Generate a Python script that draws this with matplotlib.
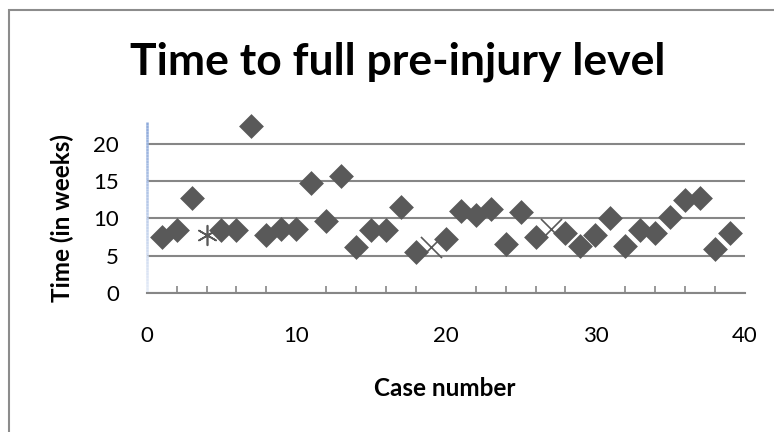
import matplotlib
matplotlib.use("Agg")
import matplotlib.pyplot as plt
import numpy as np
from matplotlib.patches import Rectangle
from matplotlib.collections import LineCollection
from matplotlib.colors import LinearSegmentedColormap
from matplotlib.ticker import MultipleLocator

plt.rcParams['font.family'] = ['Lato', 'DejaVu Sans']

# cases plotted as diamonds
case_no = [1, 2, 3, 5, 6, 7, 8, 9, 10, 11, 12, 13, 14, 15, 16, 17, 18, 20,
           21, 22, 23, 24, 25, 26, 28, 29, 30, 31, 32, 33, 34, 35, 36, 37, 38, 39]
weeks = [7.5, 8.5, 12.8, 8.5, 8.4, 22.4, 7.75, 8.55, 8.55, 14.8, 9.6, 15.7, 6.15, 8.5, 8.5, 11.5, 5.5, 7.2,
         11.0, 10.5, 11.25, 6.55, 10.85, 7.5, 8.1, 6.3, 7.8, 10.1, 6.3, 8.5, 8.0, 10.2, 12.55, 12.8, 5.85, 8.1]
# special markers
star_case = [4]
star_weeks = [7.75]
cross_case = [19, 27]
cross_weeks = [6.2, 8.65]

grey = '#595959'


def do_plot():
    fig = plt.figure(figsize=(7.74, 4.32), dpi=100)
    ax = fig.add_axes([0.1895, 0.3225, 0.773, 0.395])

    # chart border
    fig.patches.append(Rectangle((9 / 774, -0.1), 1.2, 1 - 10 / 432 + 0.1, transform=fig.transFigure,
                                 fill=False, edgecolor='#8c8c8c', linewidth=1.5))

    ax.scatter(case_no, weeks, marker='D', s=160, color=grey, zorder=3, linewidths=0, clip_on=False)
    ax.scatter(star_case, star_weeks, marker=(6, 2, 0), s=200, color=grey, zorder=3, linewidths=1.2,
               clip_on=False)
    ax.scatter(cross_case, cross_weeks, marker='x', s=230, color=grey, zorder=3, linewidths=1.2,
               clip_on=False)

    ax.set_xlim(0, 40)
    ax.set_ylim(0, 23)
    ax.set_yticks([0, 5, 10, 15, 20])
    ax.set_xticks([0, 10, 20, 30, 40])
    ax.xaxis.set_minor_locator(MultipleLocator(2))
    ax.yaxis.grid(True, color='#868686', linewidth=1.5)
    ax.set_axisbelow(True)

    for s in ['top', 'right', 'left']:
        ax.spines[s].set_visible(False)
    ax.spines['bottom'].set_color('#868686')
    ax.spines['bottom'].set_linewidth(1.5)

    # left axis line fading from blue at the top to pale at the bottom
    yy = np.linspace(0, 23, 60)
    segs = [[(0, yy[i]), (0, yy[i + 1])] for i in range(len(yy) - 1)]
    fade = LinearSegmentedColormap.from_list('fade', ['#e4ebf7', '#8eaadb'])
    lc = LineCollection(segs, colors=fade(np.linspace(0, 1, len(segs))), linewidths=1.8,
                        clip_on=False, zorder=2)
    ax.add_collection(lc)

    ax.tick_params(axis='x', which='major', length=0, pad=24, labelsize=16)
    ax.tick_params(axis='x', which='minor', direction='in', length=5, color='#868686', width=1.2)
    ax.tick_params(axis='y', length=0, pad=20, labelsize=16)

    fig.text(445 / 774, 1 - 388 / 432, 'Case number', ha='center', va='center',
             fontsize=17.5, fontweight='bold')
    fig.text(62 / 774, 1 - 218 / 432, 'Time (in weeks)', ha='center', va='center', rotation=90,
             fontsize=17.5, fontweight='bold')

    fig.text(0.514, 1 - 75 / 432, 'Time to full pre-injury level', ha='center', va='baseline',
             fontsize=32, fontweight='bold')

    plt.savefig("out.png", dpi=100)


if __name__ == "__main__":
    do_plot()
